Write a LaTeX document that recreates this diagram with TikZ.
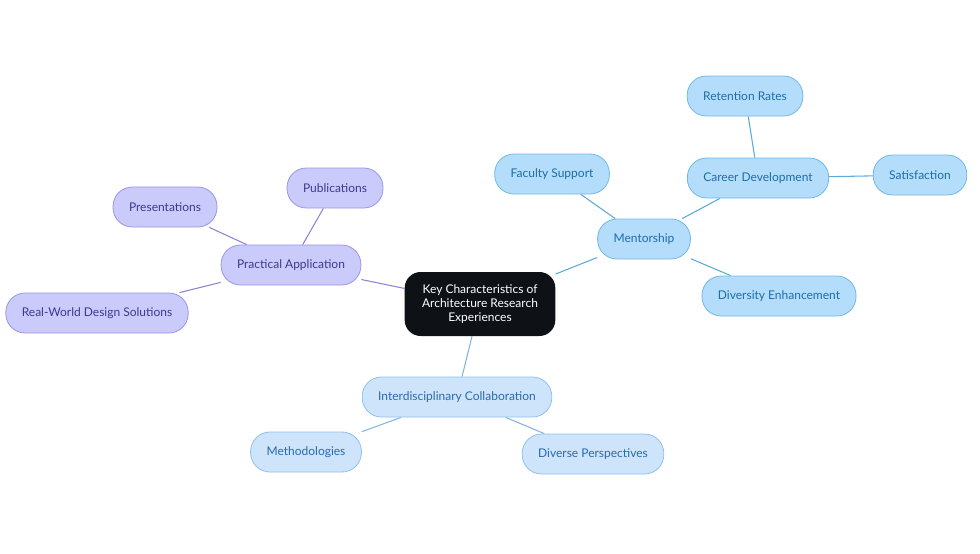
\documentclass[tikz,border=0pt]{standalone}
\usepackage{fontspec}
\setmainfont{Lato}
\usetikzlibrary{backgrounds}

\definecolor{hubfill}{HTML}{0E1116}
\definecolor{purfill}{HTML}{CACBFB}
\definecolor{purline}{HTML}{9A95E6}
\definecolor{purtext}{HTML}{3B3A8F}
\definecolor{purlink}{HTML}{8E83D4}
\definecolor{blufill}{HTML}{B4DDFB}
\definecolor{bluline}{HTML}{6FB8E8}
\definecolor{blutext}{HTML}{1E6EA8}
\definecolor{blulink}{HTML}{5AABD6}
\definecolor{skyfill}{HTML}{CDE4FB}
\definecolor{skyline}{HTML}{90C0EE}
\definecolor{skytext}{HTML}{2A6AAE}
\definecolor{skylink}{HTML}{84B4E4}

\begin{document}
\begin{tikzpicture}[
  x=0.75pt, y=-0.75pt,
  pill/.style={draw, line width=0.6pt, rounded corners=14.5pt, minimum height=30pt,
    inner xsep=12pt, font=\fontsize{9}{11}\selectfont},
  purnode/.style={pill, fill=purfill, draw=purline, text=purtext},
  blunode/.style={pill, fill=blufill, draw=bluline, text=blutext},
  skynode/.style={pill, fill=skyfill, draw=skyline, text=skytext},
  hub/.style={fill=hubfill, text=white, rounded corners=12pt, minimum width=113pt,
    minimum height=48pt, align=center, font=\fontsize{9}{10.5}\selectfont},
  purlk/.style={draw=purlink, line width=0.8pt},
  blulk/.style={draw=blulink, line width=0.8pt},
  skylk/.style={draw=skylink, line width=0.8pt}
]
  \useasboundingbox (0,0) rectangle (980,553);

  % centre
  \node[hub] (key) at (480,304) {Key Characteristics of\\Architecture Research\\Experiences};

  % mentorship branch
  \node[blunode] (ment) at (644,239) {Mentorship};
  \node[blunode] (fac)  at (552,174) {Faculty Support};
  \node[blunode] (car)  at (758,178) {Career Development};
  \node[blunode] (ret)  at (745,96)  {Retention Rates};
  \node[blunode] (sat)  at (920,175) {Satisfaction};
  \node[blunode] (div)  at (779,296) {Diversity Enhancement};

  % practical branch
  \node[purnode] (prac) at (291,265) {Practical Application};
  \node[purnode] (pub)  at (335,188) {Publications};
  \node[purnode] (pres) at (165,207) {Presentations};
  \node[purnode] (real) at (97,313)  {Real-World Design Solutions};

  % interdisciplinary branch
  \node[skynode] (inter) at (457,397) {Interdisciplinary Collaboration};
  \node[skynode] (meth)  at (306,452) {Methodologies};
  \node[skynode] (dper)  at (593,454) {Diverse Perspectives};

  % links
  \begin{scope}[on background layer]
    \draw[blulk] (key) -- (ment);
    \draw[blulk] (ment) -- (fac);
    \draw[blulk] (ment) -- (car);
    \draw[blulk] (ment) -- (div);
    \draw[blulk] (car) -- (ret);
    \draw[blulk] (car) -- (sat);
    \draw[purlk] (key) -- (prac);
    \draw[purlk] (prac) -- (pub);
    \draw[purlk] (prac) -- (pres);
    \draw[purlk] (prac) -- (real);
    \draw[skylk] (key) -- (inter);
    \draw[skylk] (inter) -- (meth);
    \draw[skylk] (inter) -- (dper);
  \end{scope}
\end{tikzpicture}
\end{document}
